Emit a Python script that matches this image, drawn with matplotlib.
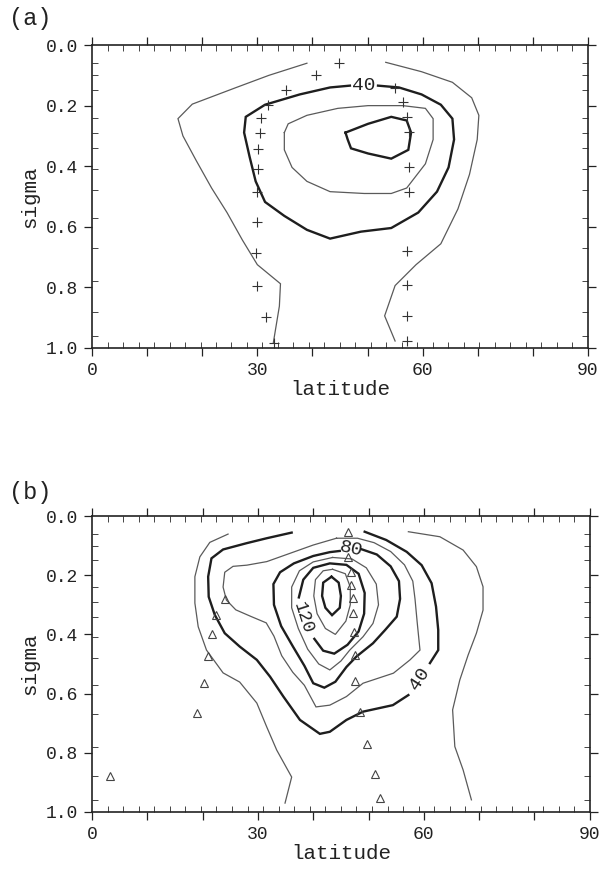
import numpy as np
import matplotlib
matplotlib.use("Agg")
import matplotlib.pyplot as plt
from matplotlib.ticker import FixedLocator, FixedFormatter

plt.rcParams["font.family"] = ["Liberation Mono", "DejaVu Sans Mono"]

# ---- panel (a): contour lines, (latitude, sigma) ----
a_c20_west = [(39.0, 0.060), (32.1, 0.100), (25.9, 0.142), (18.2, 0.195), (15.6, 0.243),
              (16.5, 0.300), (18.9, 0.381), (21.7, 0.472), (24.5, 0.553), (27.3, 0.644),
              (30.0, 0.725), (34.2, 0.788), (34.0, 0.862), (32.9, 0.983)]
a_c20_east = [(53.3, 0.057), (59.8, 0.088), (65.4, 0.123), (68.9, 0.174), (70.2, 0.232),
              (69.9, 0.312), (68.5, 0.427), (66.4, 0.541), (63.3, 0.656), (58.8, 0.725),
              (55.0, 0.794), (53.1, 0.894), (55.0, 0.977)]
a_c40 = [(51.9, 0.134), (55.7, 0.140), (59.8, 0.163), (63.3, 0.197), (65.4, 0.243),
         (65.7, 0.312), (64.7, 0.404), (62.6, 0.484), (59.2, 0.553), (54.3, 0.604),
         (48.8, 0.616), (43.2, 0.639), (39.0, 0.610), (34.9, 0.564), (31.4, 0.518),
         (29.7, 0.450), (28.6, 0.369), (27.6, 0.289), (27.9, 0.237), (31.4, 0.197),
         (37.7, 0.163), (43.2, 0.140), (46.8, 0.134)]
a_c60 = [(34.9, 0.289), (35.6, 0.260), (39.0, 0.232), (44.6, 0.209), (50.1, 0.200),
         (56.4, 0.200), (60.5, 0.209), (61.9, 0.243), (61.9, 0.312), (60.5, 0.392),
         (57.1, 0.472), (54.3, 0.490), (49.4, 0.490), (43.2, 0.484), (39.0, 0.450),
         (36.3, 0.404), (34.9, 0.346), (34.9, 0.289)]
a_c80 = [(46.0, 0.289), (50.1, 0.260), (54.3, 0.237), (57.1, 0.249), (57.9, 0.289),
         (57.4, 0.346), (54.3, 0.375), (50.1, 0.358), (47.0, 0.341), (46.4, 0.312),
         (46.0, 0.289)]
a_plus_lat = [44.9, 40.6, 35.2, 31.9, 30.7, 30.4, 30.2, 30.2, 30.0, 29.9, 29.7, 30.0, 31.6, 33.1,
              54.9, 56.5, 57.1, 57.6, 57.6, 57.6, 57.1, 57.1, 57.1, 57.1]
a_plus_sig = [0.060, 0.100, 0.148, 0.197, 0.241, 0.291, 0.343, 0.409, 0.486, 0.584, 0.685, 0.797,
              0.899, 0.983, 0.142, 0.188, 0.237, 0.287, 0.404, 0.484, 0.681, 0.791, 0.894, 0.977]

# ---- panel (b) ----
b_c20_west = [(24.6, 0.061), (21.3, 0.089), (19.5, 0.138), (18.6, 0.205), (18.6, 0.294),
              (19.2, 0.374), (20.7, 0.453), (23.7, 0.530), (26.7, 0.561), (29.8, 0.632),
              (31.6, 0.713), (33.4, 0.791), (36.1, 0.882), (34.9, 0.970)]
b_c20_east = [(57.2, 0.053), (62.9, 0.070), (67.1, 0.115), (69.5, 0.171), (70.7, 0.239),
              (70.7, 0.318), (69.5, 0.396), (68.0, 0.470), (66.5, 0.554), (65.2, 0.655),
              (65.6, 0.779), (67.1, 0.858), (68.6, 0.959)]
b_c40_a = [(36.1, 0.056), (31.6, 0.075), (27.9, 0.092), (23.7, 0.113), (21.6, 0.143),
           (21.0, 0.205), (21.1, 0.273), (22.2, 0.334), (24.0, 0.396), (26.7, 0.441),
           (29.8, 0.486), (32.2, 0.543), (34.6, 0.610), (37.6, 0.689), (41.2, 0.736),
           (43.0, 0.729), (46.0, 0.689), (49.0, 0.661), (54.4, 0.639), (57.2, 0.605)]
b_c40_b = [(61.1, 0.497), (62.6, 0.453), (62.6, 0.385), (62.2, 0.306), (61.4, 0.227),
           (59.6, 0.166), (56.9, 0.121), (53.2, 0.081), (49.3, 0.053)]
b_c60 = [(44.2, 0.075), (48.0, 0.075), (51.0, 0.090), (54.0, 0.120), (56.5, 0.165),
         (58.0, 0.220), (58.4, 0.280), (58.8, 0.360), (59.3, 0.453), (57.5, 0.486),
         (54.5, 0.531), (49.0, 0.565), (46.0, 0.610), (43.0, 0.639), (40.5, 0.645),
         (38.4, 0.572), (36.3, 0.528), (34.3, 0.472), (32.9, 0.406), (31.5, 0.361),
         (28.7, 0.339), (26.0, 0.317), (24.3, 0.284), (23.7, 0.240), (24.0, 0.190),
         (25.5, 0.170), (28.0, 0.166), (31.6, 0.154), (35.8, 0.126), (40.0, 0.098),
         (44.2, 0.075)]
b_c80 = [(48.7, 0.112), (51.5, 0.130), (54.0, 0.170), (55.5, 0.220), (55.7, 0.280),
         (55.1, 0.340), (53.0, 0.385), (50.8, 0.430), (47.8, 0.475), (46.0, 0.510),
         (44.0, 0.560), (42.0, 0.580), (40.0, 0.565), (38.4, 0.506), (36.3, 0.440),
         (34.2, 0.372), (32.9, 0.300), (32.8, 0.230), (34.0, 0.190), (36.5, 0.160),
         (40.0, 0.135), (43.0, 0.122), (44.8, 0.118)]
b_c100 = [(43.5, 0.140), (47.0, 0.145), (49.6, 0.175), (51.4, 0.230), (51.8, 0.300),
          (50.8, 0.363), (49.0, 0.408), (46.6, 0.453), (45.0, 0.490), (43.0, 0.520),
          (41.0, 0.500), (39.0, 0.450), (37.3, 0.380), (36.1, 0.310), (36.1, 0.240),
          (37.5, 0.185), (40.0, 0.155), (43.5, 0.140)]
b_c120 = [(37.4, 0.275), (38.2, 0.215), (40.0, 0.175), (43.0, 0.160), (46.0, 0.165),
          (48.2, 0.195), (49.3, 0.260), (49.2, 0.330), (48.2, 0.390), (46.2, 0.435),
          (43.8, 0.465), (41.8, 0.455), (40.2, 0.415)]
b_c140 = [(43.5, 0.180), (45.8, 0.195), (46.7, 0.240), (46.7, 0.300), (45.9, 0.355),
          (44.0, 0.400), (42.2, 0.380), (40.7, 0.330), (40.1, 0.270), (40.4, 0.215),
          (41.8, 0.185), (43.5, 0.180)]
b_c160 = [(43.3, 0.205), (44.6, 0.225), (45.0, 0.270), (44.8, 0.310), (43.4, 0.335),
          (42.2, 0.310), (41.6, 0.270), (41.8, 0.225), (43.3, 0.205)]
b_tri_lat = [46.3, 46.3, 46.8, 46.9, 47.2, 47.2, 47.3, 47.5, 47.6, 48.4, 49.8, 51.2, 52.0,
             24.0, 22.4, 21.7, 20.9, 20.2, 19.0, 3.3]
b_tri_sig = [0.053, 0.137, 0.188, 0.233, 0.278, 0.329, 0.391, 0.470, 0.559, 0.663, 0.770, 0.870,
             0.952, 0.281, 0.336, 0.397, 0.472, 0.563, 0.667, 0.878]

sigma_levels = [0.06, 0.10, 0.15, 0.20, 0.24, 0.29, 0.34, 0.41, 0.48, 0.57, 0.67, 0.78, 0.88, 0.96]
lat_grid = np.arange(0, 90.01, 2.8125)

THIN = dict(color="#5a5a5a", lw=0.9)
THICK = dict(color="#1e1e1e", lw=1.7)


def line(ax, pts, style):
    lat, sig = zip(*pts)
    ax.plot(lat, sig, solid_joinstyle="miter", **style)


def setup_axes(ax):
    ax.set_xlim(0, 90)
    ax.set_ylim(1.0, 0.0)
    ax.xaxis.set_major_locator(FixedLocator(range(0, 91, 10)))
    ax.xaxis.set_major_formatter(FixedFormatter(["0", "", "", "30", "", "", "60", "", "", "90"]))
    ax.xaxis.set_minor_locator(FixedLocator(lat_grid))
    ax.yaxis.set_major_locator(FixedLocator([0.0, 0.2, 0.4, 0.6, 0.8, 1.0]))
    ax.yaxis.set_major_formatter(FixedFormatter(["0.0", "0.2", "0.4", "0.6", "0.8", "1.0"]))
    ax.yaxis.set_minor_locator(FixedLocator(sigma_levels))
    ax.tick_params(which="major", direction="out", length=6, width=0.9,
                   top=True, right=True, labelsize=13, pad=4, colors="#222222")
    ax.tick_params(which="minor", direction="in", length=4, width=0.7,
                   top=True, right=True, colors="#444444")
    for s in ax.spines.values():
        s.set_linewidth(1.2)
        s.set_color("#222222")
    ax.set_xlabel("latitude", fontsize=15, labelpad=1, color="#222222")
    ax.set_ylabel("sigma", fontsize=15, labelpad=5, color="#222222")


fig = plt.figure(figsize=(5.99, 8.73), dpi=100)
ax_a = fig.add_axes([0.1536, 0.6014, 0.828, 0.347])
ax_b = fig.add_axes([0.1536, 0.0699, 0.831, 0.339])

# panel a
line(ax_a, a_c20_west, THIN)
line(ax_a, a_c20_east, THIN)
line(ax_a, a_c40, THICK)
line(ax_a, a_c60, THIN)
line(ax_a, a_c80, THICK)
ax_a.plot(a_plus_lat, a_plus_sig, ls="none", marker="+", ms=7, mew=0.8, color="#333333")
ax_a.text(49.4, 0.134, "40", fontsize=14, ha="center", va="center", color="#222222")
setup_axes(ax_a)

# panel b
line(ax_b, b_c20_west, THIN)
line(ax_b, b_c20_east, THIN)
line(ax_b, b_c40_a, THICK)
line(ax_b, b_c40_b, THICK)
line(ax_b, b_c60, THIN)
line(ax_b, b_c80, THICK)
line(ax_b, b_c100, THIN)
line(ax_b, b_c120, THICK)
line(ax_b, b_c140, THIN)
line(ax_b, b_c160, THICK)
ax_b.plot(b_tri_lat, b_tri_sig, ls="none", marker="^", ms=6, mew=0.8, mfc="none", color="#444444")
ax_b.text(59.2, 0.548, "40", fontsize=14, rotation=57, ha="center", va="center", color="#222222")
ax_b.text(46.8, 0.112, "80", fontsize=14, rotation=-12, ha="center", va="center", color="#222222")
ax_b.text(38.1, 0.345, "120", fontsize=13, rotation=-72, ha="center", va="center", color="#222222")
setup_axes(ax_b)

fig.text(0.015, 0.979, "(a)", fontsize=17, ha="left", va="center", color="#222222")
fig.text(0.015, 0.436, "(b)", fontsize=17, ha="left", va="center", color="#222222")

fig.savefig("out.png", dpi=100, facecolor="white")
